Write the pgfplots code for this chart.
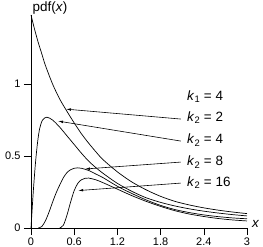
\documentclass[border=0pt]{standalone}
\usepackage{fontspec}
\setmainfont{Liberation Sans}
\usepackage{pgfplots}
\pgfplotsset{compat=1.18}
\usetikzlibrary{arrows.meta}
\begin{document}
\begin{tikzpicture}
\begin{axis}[
  scale only axis, width=216bp, height=213bp,
  xmin=0, xmax=3, ymin=0, ymax=1.48,
  axis lines=left, axis line style={-, line width=0.7pt},
  xtick={0,0.6,1.2,1.8,2.4,3}, ytick={0,0.5,1},
  tick align=outside, major tick length=7bp,
  tick style={line width=0.6pt, black},
  /pgf/number format/assume math mode=true,
  ticklabel style={font=\fontsize{11}{11}\selectfont},
  xticklabel style={yshift=1bp},
  clip=false,
  cv/.style={black, no markers, line width=0.7pt, smooth, tension=0.5},
]
% k2 = 2
\addplot[cv] coordinates {(0,1.48) (0.05,1.38) (0.1,1.29) (0.15,1.21) (0.2,1.13) (0.3,1.00) (0.4,0.895) (0.5,0.81) (0.6,0.73) (0.7,0.655) (0.8,0.59) (0.9,0.53) (1.0,0.475) (1.2,0.39) (1.4,0.32) (1.6,0.265) (1.8,0.22) (2.0,0.185) (2.2,0.16) (2.4,0.14) (2.6,0.124) (2.8,0.111) (3.0,0.10)};
% k2 = 4
\addplot[cv] coordinates {(0,0) (0.03,0.24) (0.06,0.44) (0.09,0.59) (0.12,0.69) (0.16,0.75) (0.22,0.77) (0.3,0.75) (0.4,0.70) (0.5,0.64) (0.6,0.58) (0.7,0.52) (0.8,0.465) (0.9,0.42) (1.0,0.38) (1.2,0.31) (1.4,0.255) (1.6,0.21) (1.8,0.178) (2.0,0.153) (2.2,0.133) (2.4,0.117) (2.6,0.104) (2.8,0.093) (3.0,0.084)};
% k2 = 8
\addplot[cv] coordinates {(0.1,0) (0.15,0.01) (0.2,0.05) (0.25,0.11) (0.3,0.18) (0.35,0.245) (0.4,0.30) (0.45,0.35) (0.5,0.385) (0.55,0.405) (0.6,0.415) (0.65,0.418) (0.7,0.415) (0.8,0.40) (0.9,0.375) (1.0,0.35) (1.2,0.29) (1.4,0.24) (1.6,0.195) (1.8,0.157) (2.0,0.128) (2.2,0.107) (2.4,0.091) (2.6,0.079) (2.8,0.070) (3.0,0.064)};
% k2 = 16
\addplot[cv] coordinates {(0.4,0) (0.45,0.02) (0.5,0.09) (0.55,0.18) (0.6,0.26) (0.65,0.31) (0.7,0.335) (0.75,0.345) (0.8,0.347) (0.9,0.335) (1.0,0.315) (1.2,0.27) (1.4,0.225) (1.6,0.185) (1.8,0.15) (2.0,0.12) (2.2,0.097) (2.4,0.08) (2.6,0.066) (2.8,0.056) (3.0,0.049)};
% labels
\node[anchor=west, inner sep=0pt, font=\fontsize{13.5}{13.5}\selectfont] at (axis cs:2.167,0.91) {\textit{k}\textsubscript{1} = 4};
\node[anchor=west, inner sep=0pt, font=\fontsize{13.5}{13.5}\selectfont] at (axis cs:2.167,0.764) {\textit{k}\textsubscript{2} = 2};
\node[anchor=west, inner sep=0pt, font=\fontsize{13.5}{13.5}\selectfont] at (axis cs:2.167,0.611) {\textit{k}\textsubscript{2} = 4};
\node[anchor=west, inner sep=0pt, font=\fontsize{13.5}{13.5}\selectfont] at (axis cs:2.167,0.458) {\textit{k}\textsubscript{2} = 8};
\node[anchor=west, inner sep=0pt, font=\fontsize{13.5}{13.5}\selectfont] at (axis cs:2.167,0.3125) {\textit{k}\textsubscript{2} = 16};
% arrows
\draw[-{Latex[length=5bp,width=2.6bp]}, line width=0.6pt] (axis cs:2.08,0.757) -- (axis cs:0.486,0.826);
\draw[-{Latex[length=5bp,width=2.6bp]}, line width=0.6pt] (axis cs:2.08,0.604) -- (axis cs:0.375,0.743);
\draw[-{Latex[length=5bp,width=2.6bp]}, line width=0.6pt] (axis cs:2.08,0.458) -- (axis cs:0.75,0.41);
\draw[-{Latex[length=5bp,width=2.6bp]}, line width=0.6pt] (axis cs:2.08,0.312) -- (axis cs:0.655,0.26);
% axis labels
\node[anchor=base west, inner sep=0pt, font=\fontsize{13.5}{13.5}\selectfont] at (axis cs:0.02,1.505) {pdf(\textit{x})};
\node[anchor=west, inner sep=0pt, font=\fontsize{13.5}{13.5}\selectfont] at (axis cs:3.07,0.03) {\textit{x}};
\end{axis}
\pgfresetboundingbox
\path[use as bounding box] (-31bp,-19bp) rectangle (232bp,228bp);
\end{tikzpicture}
\end{document}
